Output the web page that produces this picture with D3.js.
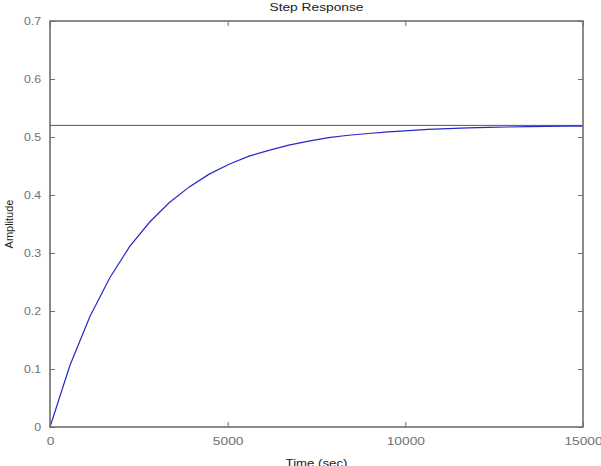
<!DOCTYPE html>
<html><head><meta charset="utf-8">
<script src="https://cdn.jsdelivr.net/npm/d3@7"></script>
<style>body{margin:0;background:#fff}svg{display:block}</style>
</head><body>
<script>
const timeValues = [0,560,1120,1680,2240,2800,3360,3920,4480,5040,5600,6160,6720,7280,7840,8400,8960,9520,10080,10640,11200,11760,12320,12880,13440,14000,14560,15000];
const amplitudeValues = [0,0.106,0.190,0.257,0.311,0.353,0.387,0.414,0.436,0.453,0.467,0.477,0.486,0.493,0.499,0.503,0.506,0.509,0.511,0.513,0.5145,0.5156,0.5165,0.5172,0.5178,0.5182,0.5186,0.5188];
const steadyState = 0.52;
const xTicks = [0,5000,10000,15000];
const yTicks = [0,0.1,0.2,0.3,0.4,0.5,0.6,0.7];
const titleText = "Step Response";
const xLabel = "Time (sec)";
const yLabel = "Amplitude";

const W = 601, H = 466;
const m = {l:50, r:18, t:21, b:39};
const svg = d3.select("body").append("svg").attr("width",W).attr("height",H);
const x = d3.scaleLinear().domain([0,15000]).range([m.l, W-m.r]);
const y = d3.scaleLinear().domain([0,0.7]).range([H-m.b, m.t]);
const font = "Liberation Sans, Arial, sans-serif";
const axisColor = "#6e6e6e";

function stretch(sel, f){
  sel.each(function(){
    const w = this.getComputedTextLength();
    if (w > 0) d3.select(this).attr("textLength", w*f).attr("lengthAdjust","spacingAndGlyphs");
  });
}

// steady-state line
svg.append("line").attr("x1",x(0)).attr("x2",x(15000)).attr("y1",y(steadyState)).attr("y2",y(steadyState))
  .attr("stroke","#555").attr("stroke-width",1);

// response curve
const pts = timeValues.map((t,i)=>[t, amplitudeValues[i]]);
svg.append("path").datum(pts)
  .attr("d", d3.line().x(d=>x(d[0])).y(d=>y(d[1])))
  .attr("fill","none").attr("stroke","#2828c8").attr("stroke-width",1.2);

// axes (inward ticks on all four sides)
function styleAxis(g){
  g.select(".domain").remove();
  g.selectAll(".tick line").attr("stroke",axisColor);
  g.selectAll(".tick text").attr("fill","#707070").style("font-family",font).style("font-size","11px");
}
const gx = svg.append("g").attr("transform",`translate(0,${y(0)})`)
  .call(d3.axisBottom(x).tickValues(xTicks).tickFormat(d3.format("d")).tickSizeInner(-5).tickSizeOuter(0).tickPadding(10))
  .call(styleAxis);
stretch(gx.selectAll(".tick text"), 1.25);
svg.append("g").attr("transform",`translate(0,${y(0.7)})`)
  .call(d3.axisTop(x).tickValues(xTicks).tickSizeInner(-5).tickSizeOuter(0).tickFormat(""))
  .call(styleAxis);
const gy = svg.append("g").attr("transform",`translate(${x(0)},0)`)
  .call(d3.axisLeft(y).tickValues(yTicks).tickFormat(d=>d===0?"0":d3.format(".1f")(d)).tickSizeInner(-5).tickSizeOuter(0).tickPadding(9))
  .call(styleAxis);
stretch(gy.selectAll(".tick text"), 1.12);
svg.append("g").attr("transform",`translate(${x(15000)},0)`)
  .call(d3.axisRight(y).tickValues(yTicks).tickSizeInner(-5).tickSizeOuter(0).tickFormat(""))
  .call(styleAxis);

// frame
svg.append("rect").attr("x",x(0)).attr("y",y(0.7)).attr("width",x(15000)-x(0)).attr("height",y(0)-y(0.7))
  .attr("fill","none").attr("stroke",axisColor).attr("stroke-width",1.6);

// labels
const t1 = svg.append("text").attr("x",(x(0)+x(15000))/2).attr("y",11).attr("text-anchor","middle")
  .style("font-family",font).style("font-size","11px").attr("fill","#222").text(titleText);
stretch(t1, 1.25);
const t2 = svg.append("text").attr("x",(x(0)+x(15000))/2).attr("y",467).attr("text-anchor","middle")
  .style("font-family",font).style("font-size","11px").attr("fill","#222").text(xLabel);
stretch(t2, 1.2);
svg.append("text").attr("transform",`translate(13,${(y(0)+y(0.7))/2}) rotate(-90)`).attr("text-anchor","middle")
  .style("font-family",font).style("font-size","11px").attr("fill","#222").text(yLabel);
</script>
</body></html>
